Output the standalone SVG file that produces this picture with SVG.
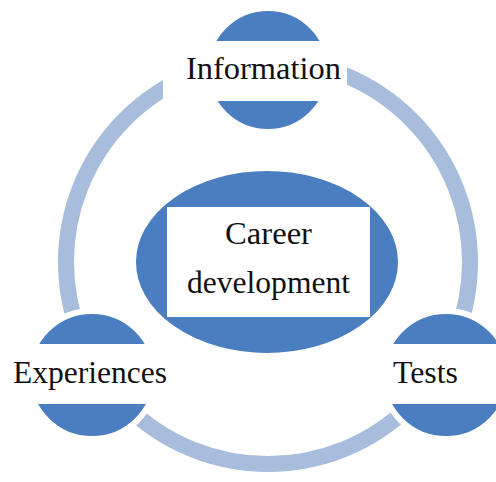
<svg xmlns="http://www.w3.org/2000/svg" width="496" height="482" viewBox="0 0 496 482">
<style>
.sat{fill:#4a7ec0;stroke:#ffffff;stroke-width:6}
.box{fill:#ffffff}
.lbl{font-family:"Liberation Serif","DejaVu Serif",serif;font-size:31px;fill:#111111;text-anchor:middle}
</style>
<rect width="496" height="482" fill="#ffffff"/>
<g id="connectors">
<circle cx="268" cy="262" r="202" fill="none" stroke="#a8bcdc" stroke-width="16"/>
</g>
<g id="information">
<circle class="sat" cx="268" cy="70" r="62"/>
<rect class="box" x="163" y="41" width="184" height="60"/>
<text class="lbl" x="263.5" y="79" textLength="155" lengthAdjust="spacingAndGlyphs">Information</text>
</g>
<g id="experiences">
<circle class="sat" cx="92" cy="375" r="64"/>
<rect class="box" x="4" y="344" width="170" height="60"/>
<text class="lbl" x="90" y="383" textLength="154" lengthAdjust="spacingAndGlyphs">Experiences</text>
</g>
<g id="tests">
<circle class="sat" cx="446" cy="375" r="64"/>
<rect class="box" x="380" y="344" width="116" height="60"/>
<text class="lbl" x="425.5" y="383" textLength="65" lengthAdjust="spacingAndGlyphs">Tests</text>
</g>
<g id="career">
<ellipse cx="267" cy="262" rx="133" ry="93" fill="#4a7ec0" stroke="#ffffff" stroke-width="4"/>
<rect class="box" x="167" y="207" width="203" height="110"/>
<text class="lbl" x="268.5" y="244" textLength="87" lengthAdjust="spacingAndGlyphs">Career</text>
<text class="lbl" x="268.5" y="293" textLength="163" lengthAdjust="spacingAndGlyphs">development</text>
</g>
</svg>
